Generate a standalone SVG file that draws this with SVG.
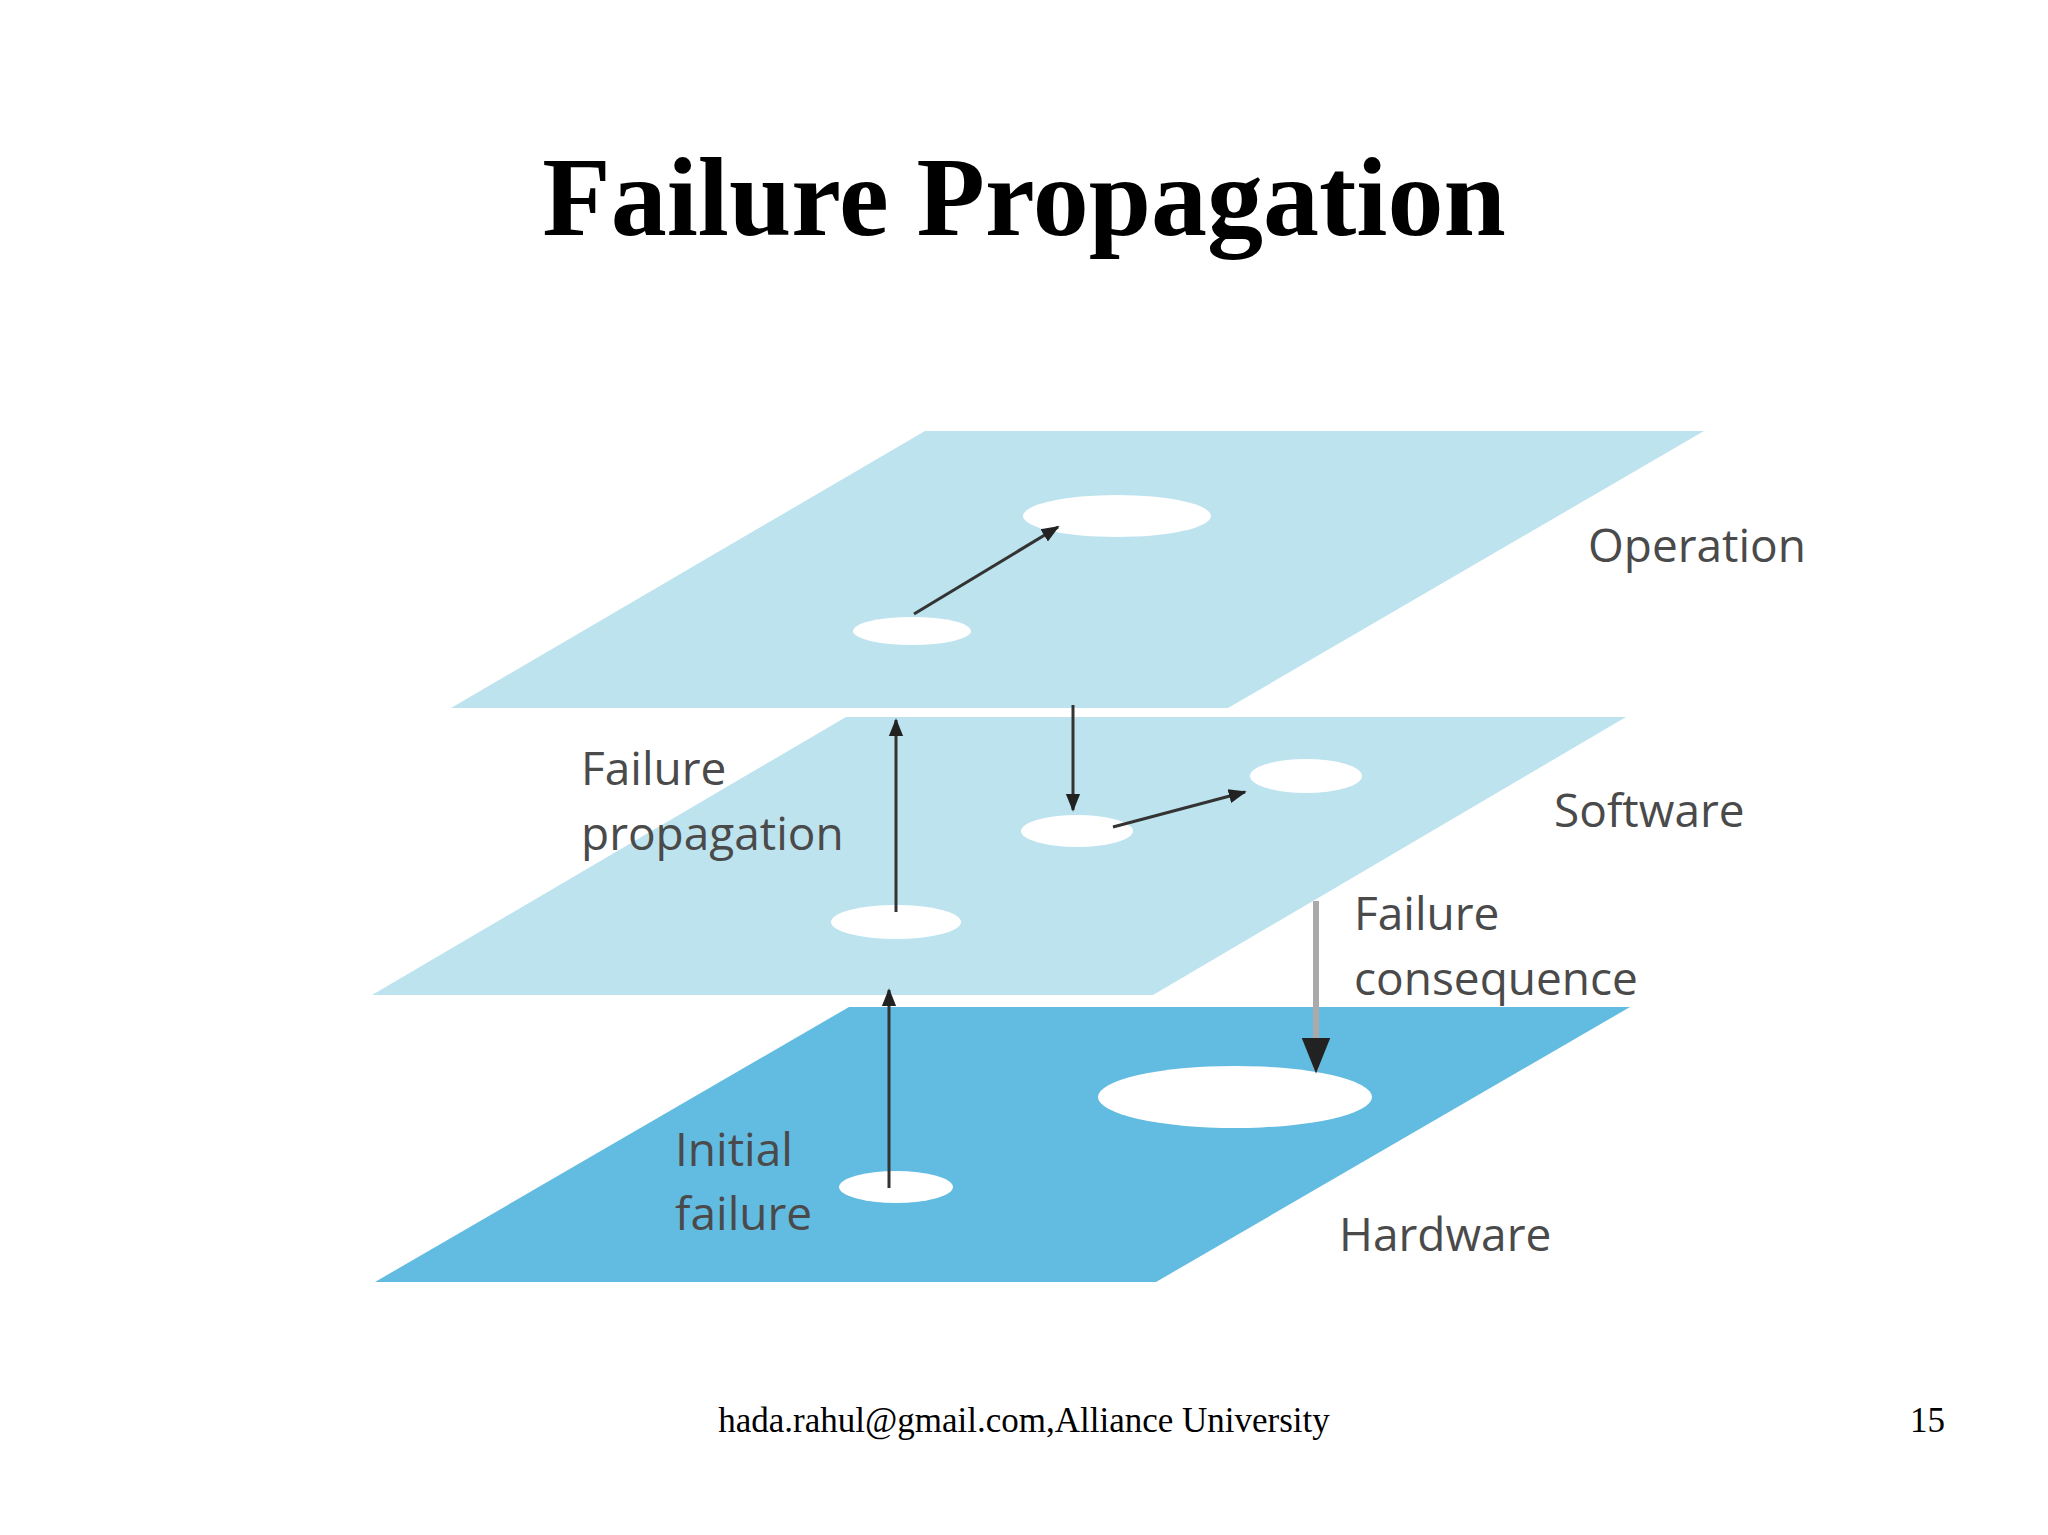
<svg xmlns="http://www.w3.org/2000/svg" width="2048" height="1535" viewBox="0 0 2048 1535">
<style>
.lbl{font-family:"Open Sans","DejaVu Sans",sans-serif;font-size:46px;fill:#4a4a4a}
.hole{fill:#fff}
.ar{stroke:#333;stroke-width:3;fill:none;marker-end:url(#ah)}
</style>
<defs>
<marker id="ah" viewBox="0 0 10 10" refX="9" refY="5" markerWidth="6" markerHeight="6" orient="auto"><path d="M0,1 L10,5 L0,9 Z" fill="#222"/></marker>
</defs>
<rect width="2048" height="1535" fill="#fff"/>
<text x="1024" y="235" text-anchor="middle" font-family="Liberation Serif,serif" font-weight="bold" font-size="112" fill="#000">Failure Propagation</text>
<g id="hardware">
<polygon points="375,1282 849,1007 1630,1007 1156,1282" fill="#62bbe0"/>
<ellipse class="hole" cx="1235" cy="1097" rx="137" ry="31"/>
<ellipse class="hole" cx="896" cy="1187" rx="57" ry="16"/>
</g>
<g id="software">
<polygon points="372,995 846,717 1626,717 1153,995" fill="#bde3ee"/>
<ellipse class="hole" cx="1306" cy="776" rx="56" ry="17"/>
<ellipse class="hole" cx="1077" cy="831" rx="56" ry="16"/>
<ellipse class="hole" cx="896" cy="922" rx="65" ry="17"/>
</g>
<g id="operation">
<polygon points="451,708 925,431 1704,431 1228,708" fill="#bde3ee"/>
<ellipse class="hole" cx="1117" cy="516" rx="94" ry="21"/>
<ellipse class="hole" cx="912" cy="631" rx="59" ry="14"/>
</g>
<g id="connectors">
<line class="ar" x1="914" y1="614" x2="1058" y2="527"/>
<line class="ar" x1="1073" y1="705" x2="1073" y2="810"/>
<line class="ar" x1="1113" y1="827" x2="1245" y2="792"/>
<line class="ar" x1="896" y1="912" x2="896" y2="720"/>
<line class="ar" x1="889" y1="1188" x2="889" y2="990"/>
<line x1="1316" y1="901" x2="1316" y2="1070" stroke="#aaa" stroke-width="6" marker-end="url(#ah)"/>
</g>
<g id="labels">
<text class="lbl" x="1588" y="562">Operation</text>
<text class="lbl" x="1554" y="827">Software</text>
<text class="lbl" x="581" y="785">Failure</text>
<text class="lbl" x="581" y="850">propagation</text>
<text class="lbl" x="1354" y="930">Failure</text>
<text class="lbl" x="1354" y="995">consequence</text>
<text class="lbl" x="675" y="1166" fill="#2a4a5a">Initial</text>
<text class="lbl" x="675" y="1230" fill="#2a4a5a">failure</text>
<text class="lbl" x="1339" y="1251">Hardware</text>
</g>
<text x="1024" y="1432" text-anchor="middle" font-family="Liberation Serif,serif" font-size="35">hada.rahul@gmail.com,Alliance University</text>
<text x="1945" y="1432" text-anchor="end" font-family="Liberation Serif,serif" font-size="35">15</text>
</svg>
